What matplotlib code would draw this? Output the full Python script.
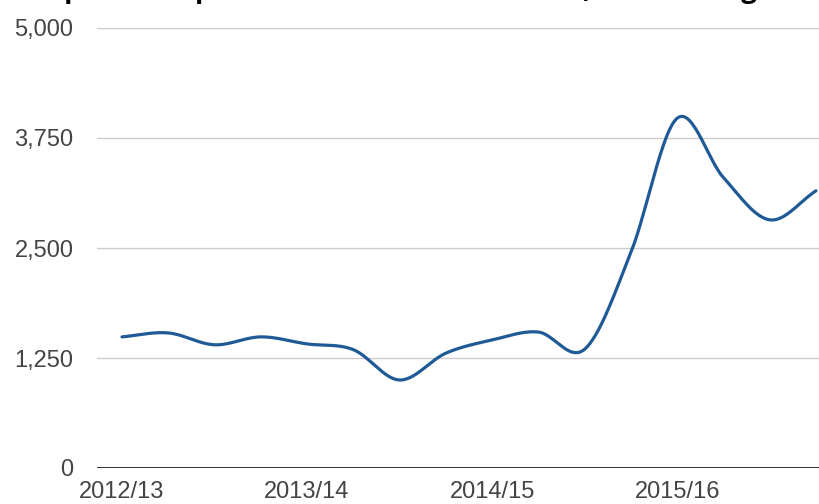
import numpy as np
import matplotlib.pyplot as plt

# Quarterly values
quarters = list(range(16))
values = [1490, 1535, 1400, 1490, 1410, 1345, 1000, 1305,
          1455, 1545, 1350, 2450, 3975, 3300, 2820, 3150]
year_ticks = [0, 4, 8, 12]
year_labels = ['2012/13', '2013/14', '2014/15', '2015/16']
y_ticks = [0, 1250, 2500, 3750, 5000]
y_labels = ['0', '1,250', '2,500', '3,750', '5,000']


def smooth(x, y, steps=30):
    # Catmull-Rom curve through the points, like the chart's smoothed line
    x = np.asarray(x, float)
    y = np.asarray(y, float)
    px = np.concatenate([[2 * x[0] - x[1]], x, [2 * x[-1] - x[-2]]])
    py = np.concatenate([[2 * y[0] - y[1]], y, [2 * y[-1] - y[-2]]])
    xs, ys = [], []
    t = np.linspace(0, 1, steps, endpoint=False)
    for i in range(1, len(px) - 2):
        for p, out in ((px, xs), (py, ys)):
            p0, p1, p2, p3 = p[i - 1], p[i], p[i + 1], p[i + 2]
            out.extend(0.5 * ((2 * p1) + (-p0 + p2) * t
                              + (2 * p0 - 5 * p1 + 4 * p2 - p3) * t ** 2
                              + (-p0 + 3 * p1 - 3 * p2 + p3) * t ** 3))
    xs.append(x[-1])
    ys.append(y[-1])
    return np.array(xs), np.array(ys)


fig = plt.figure(figsize=(8.19, 5.04), dpi=100)
ax = fig.add_axes([97 / 819, 36 / 504, 722 / 819, 440 / 504])

sx, sy = smooth(quarters, values)
ax.plot(sx, sy, color='#1f5a96', lw=2.3, solid_capstyle='round', zorder=3)

ax.set_ylim(0, 5000)
ax.set_xlim(-0.54, 15.065)
ax.set_yticks(y_ticks)
ax.set_yticklabels(y_labels)
ax.set_xticks(year_ticks)
ax.set_xticklabels(year_labels)
ax.yaxis.grid(True, color='#cccccc', lw=1)
ax.axhline(0, color='#333333', lw=1.4, zorder=2)
for s in ax.spines.values():
    s.set_visible(False)
ax.tick_params(axis='both', length=0, labelsize=17, labelcolor='#444444')
ax.tick_params(axis='y', pad=17)
ax.tick_params(axis='x', pad=9)
for lbl in ax.get_xticklabels() + ax.get_yticklabels():
    lbl.set_fontfamily('Liberation Sans')

# Title sits above the visible area, only the descenders show
fig.text(2 / 819, 1 + 2.5 / 504,
         'Complaints reported to the Ombudsman  (outstanding at end of year)',
         fontsize=20, fontweight='bold', family='Open Sans',
         ha='left', va='baseline', color='black')

fig.savefig('out.png', dpi=100)
